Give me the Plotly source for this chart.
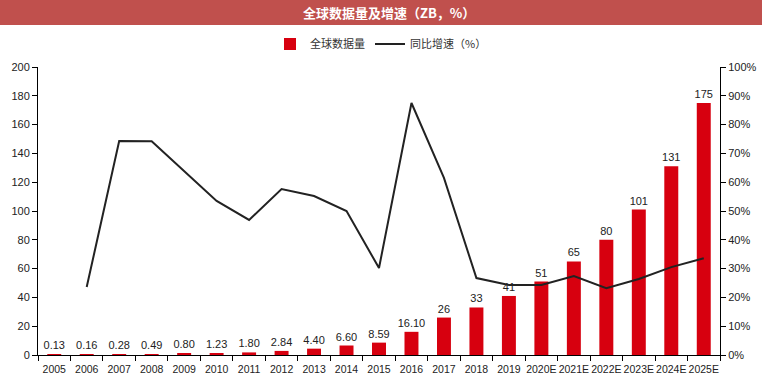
import plotly.graph_objects as go

categories = ["2005","2006","2007","2008","2009","2010","2011","2012","2013","2014","2015",
              "2016","2017","2018","2019","2020E","2021E","2022E","2023E","2024E","2025E"]
data_volume = [0.13,0.16,0.28,0.49,0.80,1.23,1.80,2.84,4.40,6.60,8.59,
               16.10,26,33,41,51,65,80,101,131,175]
volume_labels = ["0.13","0.16","0.28","0.49","0.80","1.23","1.80","2.84","4.40","6.60","8.59",
                 "16.10","26","33","41","51","65","80","101","131","175"]
growth_cats = categories[1:]
growth_pct = [23.6,74.3,74.2,63.9,53.5,46.9,57.6,55.2,50.0,30.2,87.5,61.5,26.7,24.3,24.3,27.4,23.2,26.4,30.5,33.6]

L, R, T, B = 38, 42, 67, 26
W, H = 762, 381
ph = H - T - B
pw = W - L - R

NUMFONT = "Liberation Sans, Arial"

fig = go.Figure()
fig.add_trace(go.Bar(
    x=categories, y=data_volume, name="全球数据量",
    marker=dict(color="#D7000F", line=dict(width=0)),
    text=volume_labels, textposition="outside", cliponaxis=False,
    constraintext="none",
    textfont=dict(family=NUMFONT, size=11, color="#222"),
))
fig.add_trace(go.Scatter(
    x=growth_cats, y=growth_pct, name="同比增速（%）", yaxis="y2",
    mode="lines", line=dict(color="#222222", width=2),
))

def px2paper_y(py):
    return (H - B - py) / ph

def px2paper_x(px):
    return (px - L) / pw

fig.add_shape(type="rect", xref="paper", yref="paper",
              x0=px2paper_x(0), x1=px2paper_x(W), y0=px2paper_y(25), y1=px2paper_y(0),
              fillcolor="#C0504D", line=dict(width=0), layer="below")
fig.add_annotation(xref="paper", yref="paper", x=px2paper_x(W/2 + 8), y=px2paper_y(12.5),
                   text="<b>全球数据量及增速（ZB，%）</b>", showarrow=False,
                   font=dict(family="Noto Sans CJK SC", size=13, color="white"),
                   xanchor="center", yanchor="middle")

fig.update_layout(
    width=W, height=H,
    margin=dict(l=L, r=R, t=T, b=B, autoexpand=False),
    paper_bgcolor="white", plot_bgcolor="white",
    bargap=0.57,
    showlegend=True,
    legend=dict(orientation="h", x=px2paper_x(W/2), xanchor="center",
                y=px2paper_y(44), yanchor="middle",
                font=dict(family="Noto Sans CJK SC", size=11, color="#333"),
                itemwidth=30, bgcolor="rgba(0,0,0,0)"),
    xaxis=dict(type="category", showline=True, linecolor="#000", linewidth=1,
               ticks="outside", tickson="boundaries", ticklen=5, tickcolor="#000",
               tickangle=0, ticklabelstandoff=4,
               tickfont=dict(family=NUMFONT, size=10.5, color="#222"),
               showgrid=False),
    yaxis=dict(range=[0, 200], dtick=20, showline=True, linecolor="#000", linewidth=1,
               ticks="outside", ticklen=5, tickcolor="#000", showgrid=False, zeroline=False,
               tickfont=dict(family=NUMFONT, size=11, color="#222")),
    yaxis2=dict(range=[0, 100], dtick=10, overlaying="y", side="right", ticksuffix="%",
                showline=True, linecolor="#000", linewidth=1, ticks="outside", ticklen=5,
                tickcolor="#000", showgrid=False, zeroline=False,
                tickfont=dict(family=NUMFONT, size=11, color="#222")),
    font=dict(family=NUMFONT),
)

fig.write_html("out.html", config={"displayModeBar": False},
               post_script="document.body.style.margin='0';document.body.style.padding='0';")
